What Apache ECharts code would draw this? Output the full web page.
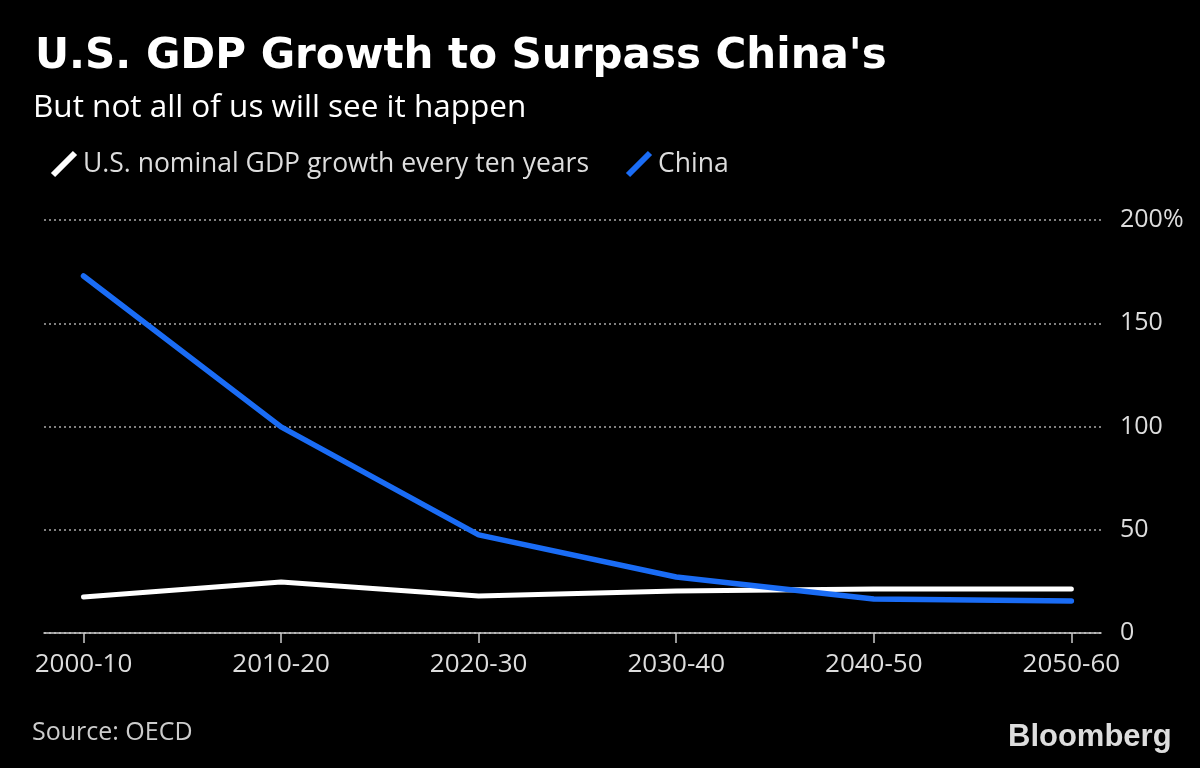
<!DOCTYPE html>
<html><head><meta charset="utf-8">
<script src="https://cdn.jsdelivr.net/npm/echarts@6/dist/echarts.min.js"></script>
<style>html,body{margin:0;padding:0;background:#000}#c{width:1200px;height:768px}</style>
</head><body><div id="c"></div>
<script>
const categories = ['2000-10','2010-20','2020-30','2030-40','2040-50','2050-60'];
const usValues = [17.4, 24.7, 17.9, 20.3, 21.3, 21.3];
const chinaValues = [172.9, 99.8, 47.5, 27.1, 16.5, 15.5];
const yTicks = [0, 50, 100, 150, 200];

const chart = echarts.init(document.getElementById('c'));
const FONT = '"Open Sans", "Noto Sans", sans-serif';
const BLUE = '#1a6cf5';
const slash = 'path://M0,10 L10,0';
chart.setOption({
  backgroundColor: '#000',
  animation: false,
  title: [{
    text: "U.S. GDP Growth to Surpass China's",
    left: 30, top: 31,
    textStyle: {color: '#fff', fontSize: 42, fontWeight: 'bold', fontFamily: '"DejaVu Sans", sans-serif'}
  }, {
    text: 'But not all of us will see it happen',
    left: 28, top: 87,
    textStyle: {color: '#fff', fontSize: 31.5, fontWeight: 'normal', fontFamily: FONT}
  }],
  legend: {
    left: 45, top: 145, itemGap: 36, itemWidth: 22, itemHeight: 22,
    textStyle: {color: '#ddd', fontSize: 26.5, fontFamily: FONT, padding: [0, 0, 0, 3]},
    data: [
      {name: 'U.S. nominal GDP growth every ten years', icon: slash, itemStyle: {color: '#fff', borderColor: '#fff', borderWidth: 6}},
      {name: 'China', icon: slash, itemStyle: {color: BLUE, borderColor: BLUE, borderWidth: 6}}
    ]
  },
  grid: {left: 44, right: 99, top: 220, bottom: 135},
  xAxis: {
    type: 'value', min: -0.2, max: 5.15,
    splitLine: {show: false},
    axisLine: {show: true, lineStyle: {color: '#ccc', width: 1.5}},
    axisTick: {show: true, customValues: [0,1,2,3,4,5], length: 10, lineStyle: {color: '#ccc', width: 1.5}},
    axisLabel: {customValues: [0,1,2,3,4,5], color: '#ddd', fontSize: 26, fontFamily: FONT, margin: 19,
      formatter: v => categories[Math.round(v)]}
  },
  yAxis: {
    type: 'value', position: 'right', min: 0, max: 200, interval: 50,
    axisLine: {show: false}, axisTick: {show: false},
    splitLine: {show: true, lineStyle: {color: '#808080', type: [2, 3], width: 2}},
    axisLabel: {color: '#ddd', fontSize: 25, fontFamily: FONT, margin: 19, align: 'left',
      formatter: v => v === 200 ? v + '%' : String(v)}
  },
  series: [
    {name: 'U.S. nominal GDP growth every ten years', type: 'line', symbol: 'none',
      lineStyle: {color: '#fff', width: 5, cap: 'round'}, itemStyle: {color: '#fff'},
      data: usValues.map((v, i) => [i, v])},
    {name: 'China', type: 'line', symbol: 'none',
      lineStyle: {color: BLUE, width: 5.5, cap: 'round'}, itemStyle: {color: BLUE},
      data: chinaValues.map((v, i) => [i, v])}
  ],
  graphic: [
    {type: 'text', left: 32, top: 720, style: {text: 'Source: OECD', fill: '#ccc', fontSize: 25, fontFamily: FONT}},
    {type: 'text', left: 1008, top: 722, style: {text: 'Bloomberg', fill: '#ddd', fontSize: 31, fontWeight: 'bold', fontFamily: '"Liberation Sans", Arial, sans-serif'}}
  ]
});
</script></body></html>
